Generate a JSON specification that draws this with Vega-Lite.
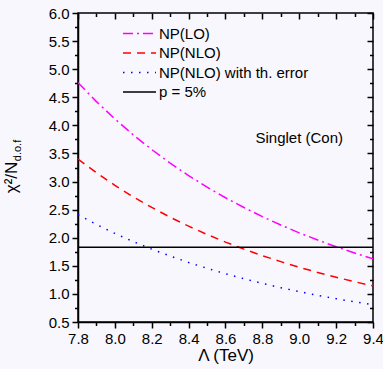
{
  "$schema": "https://vega.github.io/schema/vega-lite/v6.json",
  "autosize": {"type": "none"},
  "padding": {"left": 78, "top": 13, "right": 10, "bottom": 47},
  "width": 295,
  "height": 309,
  "background": "#F8F7FD",
  "config": {
    "font": "Liberation Sans",
    "view": {"stroke": "black", "strokeWidth": 1.5, "fill": "#F8F7FD"},
    "axis": {"grid": false, "domainColor": "black", "domainWidth": 1.5, "tickColor": "black", "tickWidth": 1.5, "labelColor": "black", "titleColor": "black", "labelFont": "Liberation Sans", "titleFont": "Liberation Sans", "labelFontSize": 15, "labelOverlap": false, "labelBound": false, "labelFlush": false, "format": ".1f"}
  },
  "datasets": {
    "curves": [
      {"lam": 7.8, "val": 4.76, "series": "NP(LO)"},
      {"lam": 7.9, "val": 4.423, "series": "NP(LO)"},
      {"lam": 8.0, "val": 4.114, "series": "NP(LO)"},
      {"lam": 8.1, "val": 3.83, "series": "NP(LO)"},
      {"lam": 8.2, "val": 3.569, "series": "NP(LO)"},
      {"lam": 8.3, "val": 3.328, "series": "NP(LO)"},
      {"lam": 8.4, "val": 3.106, "series": "NP(LO)"},
      {"lam": 8.5, "val": 2.902, "series": "NP(LO)"},
      {"lam": 8.6, "val": 2.712, "series": "NP(LO)"},
      {"lam": 8.7, "val": 2.538, "series": "NP(LO)"},
      {"lam": 8.8, "val": 2.376, "series": "NP(LO)"},
      {"lam": 8.9, "val": 2.226, "series": "NP(LO)"},
      {"lam": 9.0, "val": 2.087, "series": "NP(LO)"},
      {"lam": 9.1, "val": 1.959, "series": "NP(LO)"},
      {"lam": 9.2, "val": 1.839, "series": "NP(LO)"},
      {"lam": 9.3, "val": 1.728, "series": "NP(LO)"},
      {"lam": 9.4, "val": 1.625, "series": "NP(LO)"},
      {"lam": 7.8, "val": 3.4, "series": "NP(NLO)"},
      {"lam": 7.9, "val": 3.156, "series": "NP(NLO)"},
      {"lam": 8.0, "val": 2.933, "series": "NP(NLO)"},
      {"lam": 8.1, "val": 2.727, "series": "NP(NLO)"},
      {"lam": 8.2, "val": 2.539, "series": "NP(NLO)"},
      {"lam": 8.3, "val": 2.365, "series": "NP(NLO)"},
      {"lam": 8.4, "val": 2.206, "series": "NP(NLO)"},
      {"lam": 8.5, "val": 2.058, "series": "NP(NLO)"},
      {"lam": 8.6, "val": 1.922, "series": "NP(NLO)"},
      {"lam": 8.7, "val": 1.797, "series": "NP(NLO)"},
      {"lam": 8.8, "val": 1.681, "series": "NP(NLO)"},
      {"lam": 8.9, "val": 1.574, "series": "NP(NLO)"},
      {"lam": 9.0, "val": 1.474, "series": "NP(NLO)"},
      {"lam": 9.1, "val": 1.382, "series": "NP(NLO)"},
      {"lam": 9.2, "val": 1.297, "series": "NP(NLO)"},
      {"lam": 9.3, "val": 1.217, "series": "NP(NLO)"},
      {"lam": 9.4, "val": 1.143, "series": "NP(NLO)"},
      {"lam": 7.8, "val": 2.41, "series": "NP(NLO) with th. error"},
      {"lam": 7.9, "val": 2.236, "series": "NP(NLO) with th. error"},
      {"lam": 8.0, "val": 2.077, "series": "NP(NLO) with th. error"},
      {"lam": 8.1, "val": 1.931, "series": "NP(NLO) with th. error"},
      {"lam": 8.2, "val": 1.797, "series": "NP(NLO) with th. error"},
      {"lam": 8.3, "val": 1.674, "series": "NP(NLO) with th. error"},
      {"lam": 8.4, "val": 1.56, "series": "NP(NLO) with th. error"},
      {"lam": 8.5, "val": 1.455, "series": "NP(NLO) with th. error"},
      {"lam": 8.6, "val": 1.359, "series": "NP(NLO) with th. error"},
      {"lam": 8.7, "val": 1.27, "series": "NP(NLO) with th. error"},
      {"lam": 8.8, "val": 1.187, "series": "NP(NLO) with th. error"},
      {"lam": 8.9, "val": 1.111, "series": "NP(NLO) with th. error"},
      {"lam": 9.0, "val": 1.04, "series": "NP(NLO) with th. error"},
      {"lam": 9.1, "val": 0.975, "series": "NP(NLO) with th. error"},
      {"lam": 9.2, "val": 0.915, "series": "NP(NLO) with th. error"},
      {"lam": 9.3, "val": 0.858, "series": "NP(NLO) with th. error"},
      {"lam": 9.4, "val": 0.806, "series": "NP(NLO) with th. error"},
      {"lam": 7.8, "val": 1.83, "series": "p = 5%"},
      {"lam": 9.4, "val": 1.83, "series": "p = 5%"}
    ],
    "label": [
      {"lam": 9.0, "val": 3.69, "text": "Singlet (Con)"}
    ]
  },
  "resolve": {"axis": {"x": "independent", "y": "independent"}},
  "layer": [
    {
      "data": {"name": "curves"},
      "mark": {"type": "line", "strokeWidth": 1.5, "clip": true},
      "encoding": {
        "x": {
          "field": "lam", "type": "quantitative",
          "scale": {"domain": [7.8, 9.4], "nice": false, "zero": false},
          "axis": {
            "orient": "bottom",
            "values": [7.8, 8.0, 8.2, 8.4, 8.6, 8.8, 9.0, 9.2, 9.4],
            "tickSize": 6,
            "labelPadding": 3,
            "title": "Λ (TeV)",
            "titleFontSize": 17,
            "titleFontWeight": "normal",
            "titleBaseline": "alphabetic",
            "titleY": 38
          }
        },
        "y": {
          "field": "val", "type": "quantitative",
          "scale": {"domain": [0.5, 6.0], "nice": false, "zero": false},
          "axis": {
            "orient": "left",
            "values": [0.5, 1.0, 1.5, 2.0, 2.5, 3.0, 3.5, 4.0, 4.5, 5.0, 5.5, 6.0],
            "tickSize": 6,
            "labelPadding": 3,
            "title": "χ²/N",
            "titleFontSize": 17,
            "titleFontWeight": "normal",
            "titleAngle": 270,
            "titleBaseline": "alphabetic",
            "titleAlign": "center",
            "titleX": -62,
            "titleY": 164
          }
        },
        "color": {
          "field": "series", "type": "nominal",
          "scale": {"domain": ["NP(LO)", "NP(NLO)", "NP(NLO) with th. error", "p = 5%"], "range": ["#FF00FF", "#FF0000", "#0000FF", "#000000"]},
          "legend": {
            "orient": "none", "legendX": 43, "legendY": 13, "title": null, "padding": 0,
            "symbolType": "M-1,0L5,0", "symbolSize": 121, "symbolStrokeWidth": 1.5, "symbolFillColor": "transparent",
            "labelFontSize": 15, "labelFont": "Liberation Sans", "labelColor": "black", "labelOffset": 23, "rowPadding": 3.5, "labelLimit": 300
          }
        },
        "strokeDash": {
          "field": "series", "type": "nominal",
          "scale": {"domain": ["NP(LO)", "NP(NLO)", "NP(NLO) with th. error", "p = 5%"], "range": [[10, 4, 2, 4], [8, 6], [1.5, 6.5], [1, 0]]},
          "legend": {
            "orient": "none", "legendX": 43, "legendY": 13, "title": null, "padding": 0,
            "symbolType": "M-1,0L5,0", "symbolSize": 121, "symbolStrokeWidth": 1.5, "symbolFillColor": "transparent",
            "labelFontSize": 15, "labelFont": "Liberation Sans", "labelColor": "black", "labelOffset": 23, "rowPadding": 3.5, "labelLimit": 300
          }
        }
      }
    },
    {
      "data": {"name": "label"},
      "mark": {"type": "text", "fontSize": 15, "font": "Liberation Sans", "align": "center", "baseline": "alphabetic", "color": "black"},
      "encoding": {
        "text": {"field": "text", "type": "nominal"},
        "x": {
          "field": "lam", "type": "quantitative",
          "scale": {"domain": [7.8, 9.4], "nice": false, "zero": false},
          "axis": {
            "orient": "top", "title": null, "labels": false, "domain": false,
            "values": [7.8, 8.0, 8.2, 8.4, 8.6, 8.8, 9.0, 9.2, 9.4],
            "tickSize": 6, "offset": -6
          }
        },
        "y": {
          "field": "val", "type": "quantitative",
          "scale": {"domain": [0.5, 6.0], "nice": false, "zero": false},
          "axis": {
            "orient": "right", "title": null, "labels": false, "domain": false,
            "values": [0.5, 1.0, 1.5, 2.0, 2.5, 3.0, 3.5, 4.0, 4.5, 5.0, 5.5, 6.0],
            "tickSize": 6, "offset": -6
          }
        }
      }
    },
    {
      "data": {"name": "label"},
      "mark": {"type": "point", "opacity": 0},
      "encoding": {
        "x": {
          "field": "lam", "type": "quantitative",
          "scale": {"domain": [7.8, 9.4], "nice": false, "zero": false},
          "axis": {
            "orient": "bottom", "title": null, "labels": false, "domain": false,
            "values": [7.9, 8.1, 8.3, 8.5, 8.7, 8.9, 9.1, 9.3],
            "tickSize": 3.5
          }
        },
        "y": {
          "field": "val", "type": "quantitative",
          "scale": {"domain": [0.5, 6.0], "nice": false, "zero": false},
          "axis": {
            "orient": "left", "title": null, "labels": false, "domain": false,
            "values": [0.75, 1.25, 1.75, 2.25, 2.75, 3.25, 3.75, 4.25, 4.75, 5.25, 5.75],
            "tickSize": 3.5
          }
        }
      }
    },
    {
      "data": {"name": "label"},
      "mark": {"type": "point", "opacity": 0},
      "encoding": {
        "x": {
          "field": "lam", "type": "quantitative",
          "scale": {"domain": [7.8, 9.4], "nice": false, "zero": false},
          "axis": {
            "orient": "top", "title": null, "labels": false, "domain": false,
            "values": [7.9, 8.1, 8.3, 8.5, 8.7, 8.9, 9.1, 9.3],
            "tickSize": 3.5, "offset": -3.5
          }
        },
        "y": {
          "field": "val", "type": "quantitative",
          "scale": {"domain": [0.5, 6.0], "nice": false, "zero": false},
          "axis": {
            "orient": "right", "title": null, "labels": false, "domain": false,
            "values": [0.75, 1.25, 1.75, 2.25, 2.75, 3.25, 3.75, 4.25, 4.75, 5.25, 5.75],
            "tickSize": 3.5, "offset": -3.5
          }
        }
      }
    },
    {
      "data": {"name": "label"},
      "mark": {"type": "point", "opacity": 0},
      "encoding": {
        "x": {
          "field": "lam", "type": "quantitative",
          "scale": {"domain": [7.8, 9.4], "nice": false, "zero": false},
          "axis": null
        },
        "y": {
          "field": "val", "type": "quantitative",
          "scale": {"domain": [0.5, 6.0], "nice": false, "zero": false},
          "axis": {
            "orient": "left", "labels": false, "ticks": false, "domain": false,
            "title": "d.o.f",
            "titleFontSize": 11,
            "titleFontWeight": "normal",
            "titleAngle": 270,
            "titleBaseline": "alphabetic",
            "titleAlign": "center",
            "titleX": -58,
            "titleY": 137
          }
        }
      }
    }
  ]
}
